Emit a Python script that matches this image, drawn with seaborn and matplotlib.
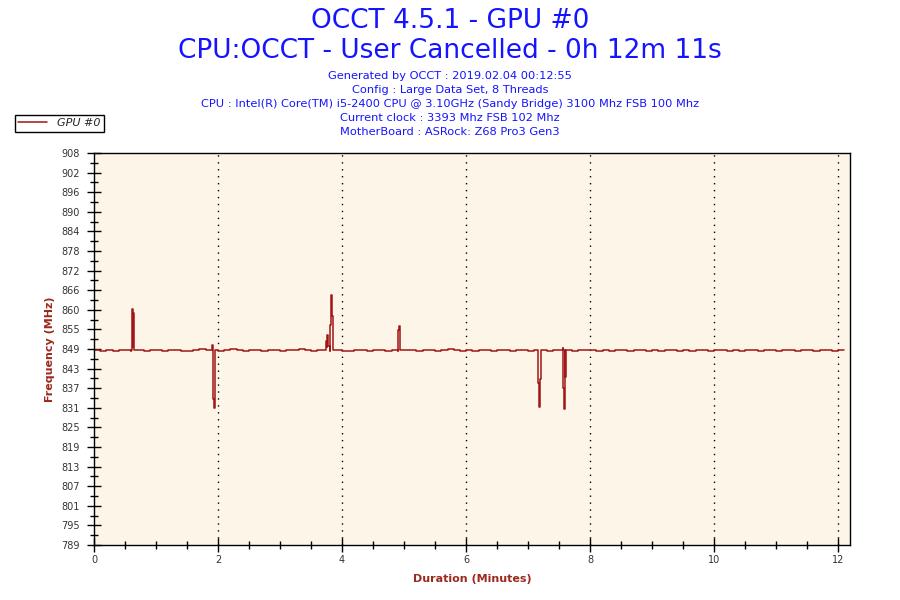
import pandas as pd
import numpy as np
import matplotlib.pyplot as plt
import seaborn as sns
from matplotlib.ticker import MultipleLocator

# header text
title_1 = "OCCT 4.5.1 - GPU #0"
title_2 = "CPU:OCCT - User Cancelled - 0h 12m 11s"
info_lines = [
    "Generated by OCCT : 2019.02.04 00:12:55",
    "Config : Large Data Set, 8 Threads",
    "CPU : Intel(R) Core(TM) i5-2400 CPU @ 3.10GHz (Sandy Bridge) 3100 Mhz FSB 100 Mhz",
    "Current clock : 3393 Mhz FSB 102 Mhz",
    "MotherBoard : ASRock: Z68 Pro3 Gen3",
]

# y tick labels as shown by OCCT (21 evenly spaced ticks between 789 and 908)
y_tick_labels = ["789", "795", "801", "807", "813", "819", "825", "831", "837", "843",
                 "849", "855", "860", "866", "872", "878", "884", "890", "896", "902", "908"]

# baseline clock, one reading every 0.1 min
base_min = np.round(np.arange(0, 12.2, 0.1), 1)
base_mhz = [
    848.3, 848.0, 848.3, 848.0, 848.3, 848.3, 848.0, 848.3, 848.0, 848.3,
    848.3, 848.0, 848.3, 848.3, 848.0, 848.0, 848.3, 848.6, 848.3, 848.3,
    848.0, 848.3, 848.6, 848.3, 848.0, 848.3, 848.3, 848.0, 848.3, 848.3,
    848.0, 848.3, 848.3, 848.6, 848.3, 848.0, 848.3, 848.3, 848.0, 848.3,
    848.0, 848.0, 848.3, 848.3, 848.0, 848.3, 848.3, 848.0, 848.3, 848.0,
    848.3, 848.3, 848.0, 848.3, 848.3, 848.0, 848.3, 848.6, 848.3, 848.0,
    848.3, 848.0, 848.3, 848.3, 848.0, 848.3, 848.3, 848.0, 848.3, 848.3,
    848.0, 848.3, 848.3, 848.0, 848.3, 848.3, 848.3, 848.0, 848.3, 848.3,
    848.3, 848.0, 848.3, 848.0, 848.3, 848.3, 848.0, 848.3, 848.3, 848.0,
    848.3, 848.0, 848.3, 848.3, 848.0, 848.3, 848.0, 848.3, 848.3, 848.0,
    848.3, 848.3, 848.0, 848.3, 848.0, 848.3, 848.3, 848.0, 848.3, 848.3,
    848.0, 848.3, 848.3, 848.0, 848.3, 848.3, 848.0, 848.3, 848.3, 848.0,
    848.3, 848.3,
]

# short spikes / dips
spike_min = [0.600, 0.608, 0.614, 0.622, 0.630, 0.640,
             1.905, 1.914, 1.930, 1.945, 1.955,
             3.735, 3.742, 3.750, 3.758, 3.775, 3.810, 3.827, 3.842, 3.855,
             4.900, 4.909, 4.925, 4.940,
             7.155, 7.166, 7.182, 7.198, 7.210,
             7.560, 7.570, 7.586, 7.602, 7.615]
spike_mhz = [848.3, 849.7, 860.6, 849.0, 859.5, 848.3,
             849.7, 833.2, 830.7, 844.6, 848.3,
             848.3, 850.9, 849.0, 852.7, 849.5, 855.8, 864.9, 858.5, 848.3,
             848.3, 854.3, 855.5, 848.3,
             848.3, 838.3, 831.0, 839.3, 848.3,
             848.7, 836.8, 830.2, 839.9, 848.3]

df = pd.DataFrame({
    "Duration": np.concatenate([base_min, spike_min]),
    "Frequency": np.concatenate([base_mhz, spike_mhz]),
})
df = df.sort_values("Duration", kind="stable").reset_index(drop=True)

sns.set_style("white")
plt.rcParams["font.family"] = ["DejaVu Sans"]

fig = plt.figure(figsize=(9, 6), dpi=100)
ax = fig.add_axes([94 / 900, 55 / 600, 756 / 900, 392 / 600])
ax.set_facecolor("#fdf6e8")

line_color = "#a01515"
sns.lineplot(data=df, x="Duration", y="Frequency", color=line_color, lw=1.1,
             estimator=None, sort=False, ax=ax, label="GPU #0", drawstyle="steps-post")

ax.set_xlim(0, 12.19)
ax.set_ylim(789, 908)
ax.xaxis.set_major_locator(MultipleLocator(2))
ax.xaxis.set_minor_locator(MultipleLocator(0.5))
y_ticks = np.linspace(789, 908, 21)
ax.set_yticks(y_ticks)
ax.set_yticklabels(y_tick_labels)
ax.set_yticks((y_ticks[:-1] + y_ticks[1:]) / 2, minor=True)

ax.tick_params(axis="both", which="both", bottom=True, left=True, top=False, right=False)
ax.tick_params(axis="both", which="major", direction="inout", length=10, width=1,
               labelsize=7, colors="black", labelcolor="#333333")
ax.tick_params(axis="both", which="minor", direction="inout", length=6, width=1, colors="black")
ax.tick_params(axis="x", which="major", pad=2)
ax.tick_params(axis="y", which="major", pad=5)

ax.grid(False)
for xv in [2, 4, 6, 8, 10, 12]:
    ax.axvline(xv, color="black", lw=1, ls=(0, (1, 4)), zorder=1)

for s in ax.spines.values():
    s.set_color("black")
    s.set_linewidth(1)

lab_color = "#9b2a1e"
ax.set_xlabel("Duration (Minutes)", color=lab_color, fontsize=8, fontweight="bold", labelpad=7)
ax.set_ylabel("Frequency (MHz)", color=lab_color, fontsize=8, fontweight="bold", labelpad=5)

blue = "#1414ff"
fig.text(0.5, 1 - 21 / 600, title_1, ha="center", va="center", color=blue, fontsize=19)
fig.text(0.5, 1 - 51 / 600, title_2, ha="center", va="center", color=blue, fontsize=19)
for i, t in enumerate(info_lines):
    fig.text(0.5, 1 - (76 + 14 * i) / 600, t, ha="center", va="center", color=blue, fontsize=8.2)

leg = ax.legend(loc="upper left", bbox_to_anchor=(15 / 900, 1 - 115 / 600),
                bbox_transform=fig.transFigure, frameon=True, fancybox=False,
                borderpad=0.3, borderaxespad=0, handlelength=2.6, handletextpad=0.9,
                prop={"style": "italic", "size": 8})
leg.get_frame().set_edgecolor("black")
leg.get_frame().set_linewidth(1)
leg.get_frame().set_alpha(1)

fig.savefig("out.png", dpi=100)
